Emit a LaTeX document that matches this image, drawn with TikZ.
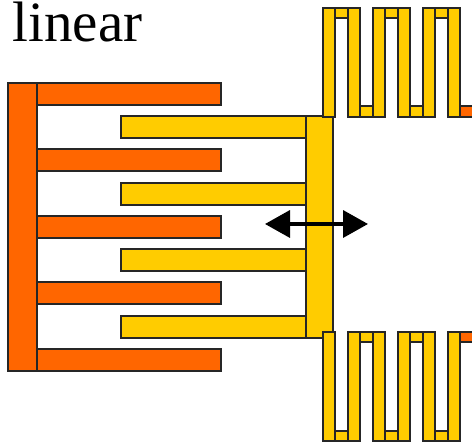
\documentclass[tikz,border=0pt]{standalone}
\usepackage{fontspec}
\setmainfont{Liberation Serif}
\usepackage{tikz}
\usetikzlibrary{arrows.meta}
\definecolor{combor}{RGB}{255,102,0}
\definecolor{combay}{RGB}{255,204,0}

\begin{document}
\begin{tikzpicture}[x=1pt,y=-1pt,line width=1.3pt,
		fixed/.style={draw=black!85,fill=combor},
		moving/.style={draw=black!85,fill=combay},
		motion/.style={line width=3.6pt,{Triangle[length=25pt,width=27pt]}-{Triangle[length=25pt,width=27pt]}}]
					\useasboundingbox (0,0) rectangle (472,443);
					\node[anchor=base west,inner sep=0pt,font=\fontsize{57}{57}\selectfont] (title) at (12,42) {linear};
					% orange comb
					\foreach \y in {83,149,216,282,349}
						\draw[fixed] (37,\y) rectangle ++(184,22);
					\draw[fixed] (8,83) rectangle (37,371);
					% yellow comb
					\foreach \y in {116,183,249,316}
						\draw[moving] (121,\y) rectangle ++(185,22);
					\draw[moving] (306,116) rectangle (333,338);
					% upper spring
					\foreach \x in {323,373,423}{
						\draw[moving] (\x+12,8) rectangle ++(13,10);
					}
					\foreach \x in {360,410}{
						\draw[moving] (\x,106) rectangle ++(13,11);
					}
					\fill[combor] (460,106) rectangle (472,117);
					\draw[black!85] (472,106)--(460,106)--(460,117)--(472,117);
					\foreach \x in {323,348,373,398,423,448}
						\draw[moving] (\x,8) rectangle ++(12,109);
					% lower spring
					\foreach \x in {323,373,423}{
						\draw[moving] (\x+12,431) rectangle ++(13,10);
					}
					\foreach \x in {360,410}{
						\draw[moving] (\x,332) rectangle ++(13,10);
					}
					\fill[combor] (460,332) rectangle (472,342);
					\draw[black!85] (472,332)--(460,332)--(460,342)--(472,342);
					\foreach \x in {323,348,373,398,423,448}
						\draw[moving] (\x,332) rectangle ++(12,109);
					% travel of the shuttle
					\coordinate (L) at (265,224);
					\coordinate (R) at (368,224);
					\draw[motion] (L)--(R);
		\end{tikzpicture}
\end{document}
